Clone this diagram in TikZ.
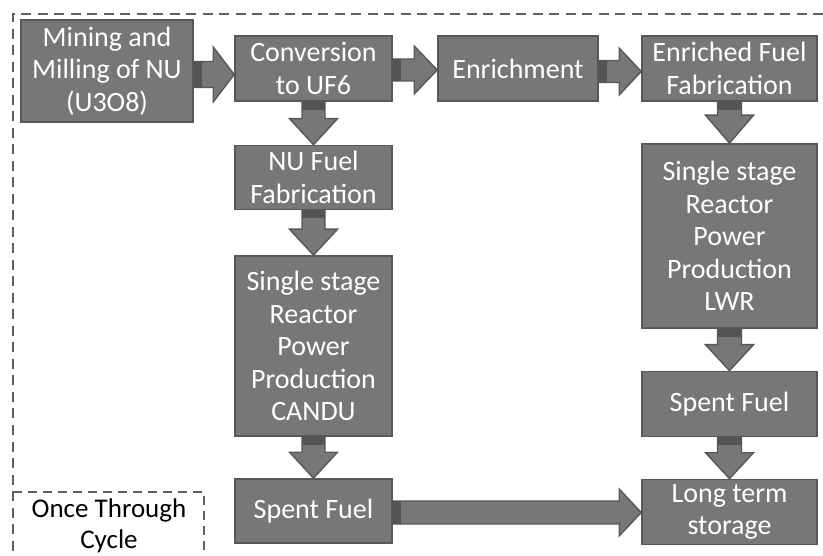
\documentclass[tikz,border=0pt]{standalone}
\usepackage{fontspec}
\setmainfont{Carlito}
\usetikzlibrary{calc}

\definecolor{boxfill}{RGB}{119,119,119}
\definecolor{boxline}{RGB}{88,88,88}
\definecolor{flowroot}{RGB}{84,84,84}
\definecolor{frameline}{RGB}{95,95,95}

% Horizontal block arrow: source, target, vertical shift, shaft half-width, head half-width, head length
\newcommand\rightflow[6]{%
  \filldraw[flow] let \p1=($(#1.east)+(0,#3)$), \p2=(#2.west) in
    (\x1,\y1+#4pt) -- (\x2-#6pt,\y1+#4pt) -- (\x2-#6pt,\y1+#5pt) -- (\x2,\y1)
    -- (\x2-#6pt,\y1-#5pt) -- (\x2-#6pt,\y1-#4pt) -- (\x1,\y1-#4pt) -- cycle;
  \fill[flowroot] let \p1=($(#1.east)+(0,#3)$) in
    (\x1,\y1+#4pt) rectangle (\x1+8pt,\y1-#4pt);
}
% Vertical block arrow: source, target, horizontal shift, shaft half-width, head half-width, head length
\newcommand\downflow[6]{%
  \filldraw[flow] let \p1=($(#1.south)+(#3,0)$), \p2=(#2.north) in
    (\x1-#4pt,\y1) -- (\x1-#4pt,\y2+#6pt) -- (\x1-#5pt,\y2+#6pt) -- (\x1,\y2)
    -- (\x1+#5pt,\y2+#6pt) -- (\x1+#4pt,\y2+#6pt) -- (\x1+#4pt,\y1) -- cycle;
  \fill[flowroot] let \p1=($(#1.south)+(#3,0)$) in
    (\x1-#4pt,\y1) rectangle (\x1+#4pt,\y1-8pt);
}

\tikzset{
  box/.style={draw=boxline, fill=boxfill, line width=1.6pt, text=white,
    align=center, inner sep=0pt,
    font=\fontsize{28}{32.5}\selectfont},
  flow/.style={fill=boxfill, draw=boxline, line width=1.4pt, line join=miter},
  frame/.style={draw=frameline, line width=2.6pt, dash pattern=on 10pt off 6.5pt},
  subframe/.style={draw=frameline, line width=2.2pt, dash pattern=on 9pt off 6pt},
}

\begin{document}
\begin{tikzpicture}[x=1pt,y=-1pt]
\useasboundingbox (0,0) rectangle (823,556);
\clip (0,0) rectangle (823,556);

% outer dashed frame and the once-through legend box
\draw[frame] (13,600) -- (13,14) -- (840,14);
\draw[subframe] (13,492) -- (204,492) -- (204,600);
\node[font=\fontsize{27}{30.5}\selectfont, align=center] (legend) at (109,526) {Once Through\\Cycle};

% process steps
\node[box, minimum width=172pt, minimum height=102pt] (mining) at (107,71) {Mining and\\Milling of NU\\(U3O8)};
\node[box, minimum width=157pt, minimum height=65pt] (conv) at (313.5,68.5) {Conversion\\to UF6};
\node[box, minimum width=160pt, minimum height=65pt] (enrich) at (518,68.5) {Enrichment};
\node[box, minimum width=175pt, minimum height=65pt] (efab) at (729.5,68.5) {Enriched Fuel\\Fabrication};
\node[box, minimum width=157pt, minimum height=64pt] (nufab) at (313.5,177.5) {NU Fuel\\Fabrication};
\node[box, minimum width=157pt, minimum height=180pt] (candu) at (313.5,346) {Single stage\\Reactor\\Power\\Production\\CANDU};
\node[box, minimum width=175pt, minimum height=184pt] (lwr) at (729.5,236) {Single stage\\Reactor\\Power\\Production\\LWR};
\node[box, minimum width=175pt, minimum height=65pt] (spentR) at (729.5,404) {Spent Fuel};
\node[box, minimum width=157pt, minimum height=64pt] (spentL) at (313.5,511) {Spent Fuel};
\node[box, minimum width=175pt, minimum height=65pt] (storage) at (729.5,512) {Long term\\storage};

% flows between steps
\rightflow{mining}{conv}{3.5}{13}{27.5}{21}
\rightflow{conv}{enrich}{1.5}{11}{24}{23}
\rightflow{enrich}{efab}{3}{11}{23.5}{22}
\rightflow{spentL}{storage}{1.5}{11.5}{23.5}{22}
\downflow{conv}{nufab}{0}{11.5}{24}{26}
\downflow{nufab}{candu}{0}{11.5}{24}{26}
\downflow{candu}{spentL}{0}{11.5}{24}{26}
\downflow{efab}{lwr}{0}{12}{24}{28}
\downflow{lwr}{spentR}{0}{12}{24}{26}
\downflow{spentR}{storage}{0}{12}{24}{26}
\end{tikzpicture}
\end{document}
